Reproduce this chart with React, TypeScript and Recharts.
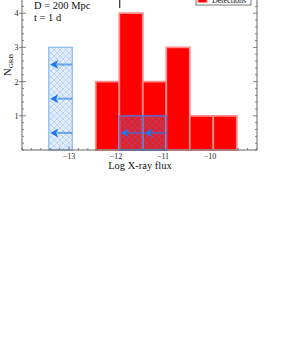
import React from "react";
import { ComposedChart, XAxis, YAxis, ReferenceArea, ReferenceLine } from "recharts";

// detected GRBs, histogram bins of width 0.5 in log flux
const binLeft = [-12.43, -11.93, -11.43, -10.93, -10.43, -9.93];
const detections = [2, 4, 2, 3, 1, 1];
const binWidth = 0.5;

// upper limits (hatched, arrows pointing left)
const limitLeft = [-13.43, -11.93, -11.43];
const limitCounts = [3, 1, 1];

const markerFlux = -11.92;

const xMajorTicks = [-13, -12, -11, -10];
const yMajorTicks = [1, 2, 3, 4];

const xDomain: [number, number] = [-14, -9];
const yDomain: [number, number] = [0, 5];

const FONT = "'Liberation Serif', 'Times New Roman', serif";
const AXIS = "#666";

const steps = (a: number, b: number, s: number) =>
  Array.from({ length: Math.round((b - a) / s) + 1 }, (_, i) => +(a + i * s).toFixed(2));
const xTicks = steps(xDomain[0], xDomain[1], 0.2);
const yTicks = steps(yDomain[0], yDomain[1], 0.2);
const isMajor = (v: number, majors: number[]) => majors.some((m) => Math.abs(m - v) < 1e-6);

const bars = binLeft.map((x, i) => ({ x1: x, x2: x + binWidth, n: detections[i] }));
const limits = limitLeft.map((x, i) => ({ x1: x, x2: x + binWidth, n: limitCounts[i] }));
const arrows = limits.flatMap((l) =>
  Array.from({ length: l.n }, (_, k) => ({ x1: l.x1, x2: l.x2, y: k + 0.5 }))
);

const XTick = (p: any) => {
  const v = p.payload.value;
  const major = isMajor(v, xMajorTicks);
  return (
    <g>
      <line x1={p.x} x2={p.x} y1={p.y} y2={p.y - (major ? 4 : 2)} stroke={AXIS} strokeWidth={0.8} />
      {major && (
        <text x={p.x} y={p.y + 8.5} textAnchor="middle" fontSize={8} fontFamily={FONT} fill="#222">
          {`\u2212${Math.abs(v)}`}
        </text>
      )}
    </g>
  );
};

const YTickL = (p: any) => {
  const v = p.payload.value;
  const major = isMajor(v, yMajorTicks);
  return (
    <g>
      <line x1={major ? p.x - 3 : p.x} x2={p.x + (major ? 4 : 2)} y1={p.y} y2={p.y} stroke={AXIS} strokeWidth={0.8} />
      {major && (
        <text x={p.x - 3.5} y={p.y + 3} textAnchor="end" fontSize={8} fontFamily={FONT} fill="#222">
          {v}
        </text>
      )}
    </g>
  );
};

const YTickR = (p: any) => {
  const v = p.payload.value;
  const major = isMajor(v, yMajorTicks);
  return <line x1={p.x} x2={p.x - (major ? 4 : 2)} y1={p.y} y2={p.y} stroke={AXIS} strokeWidth={0.8} />;
};

const Arrow = (p: any) => {
  const cy = p.y + p.height / 2;
  const left = p.x + 1.5;
  const right = p.x + p.width;
  const head = 8;
  return (
    <g>
      <line x1={right} x2={left + head - 1} y1={cy} y2={cy} stroke="rgba(26,120,240,0.6)" strokeWidth={2} />
      <path d={`M${left},${cy} L${left + head},${cy - 4.5} L${left + head - 2},${cy} L${left + head},${cy + 4.5} Z`} fill="#1a78f0" />
    </g>
  );
};

export default function App() {
  return (
    <div style={{ position: "relative", width: 281, height: 363, overflow: "hidden", background: "#fff" }}>
      <style>{"body{margin:0}"}</style>
      <svg width={0} height={0} style={{ position: "absolute" }}>
        <defs>
          <pattern id="hatch" width={6} height={6} patternUnits="userSpaceOnUse">
            <rect width={6} height={6} fill="rgba(110,165,235,0.2)" />
            <path d="M0,0 L6,6 M6,0 L0,6" stroke="rgba(70,130,225,0.35)" strokeWidth={0.7} />
          </pattern>
        </defs>
      </svg>
      <div style={{ position: "absolute", top: -40, left: 0 }}>
        <ComposedChart width={281} height={230} margin={{ top: 19, right: 0, bottom: 0, left: 0 }} data={bars}>
          <XAxis
            type="number"
            dataKey="x1"
            domain={xDomain}
            ticks={xTicks}
            interval={0}
            height={40}
            tickSize={0}
            tickMargin={0}
            tickLine={false}
            axisLine={{ stroke: AXIS }}
            tick={(p: any) => <XTick {...p} />}
            allowDataOverflow
          />
          <YAxis
            type="number"
            domain={yDomain}
            ticks={yTicks}
            interval={0}
            width={22}
            tickSize={0}
            tickMargin={0}
            tickLine={false}
            axisLine={{ stroke: AXIS }}
            tick={(p: any) => <YTickL {...p} />}
            allowDataOverflow
          />
          <YAxis
            yAxisId="r"
            orientation="right"
            type="number"
            domain={yDomain}
            ticks={yTicks}
            interval={0}
            width={24}
            tickSize={0}
            tickMargin={0}
            tickLine={false}
            axisLine={{ stroke: AXIS }}
            tick={(p: any) => <YTickR {...p} />}
            allowDataOverflow
          />
          {bars.map((b, i) => (
            <ReferenceArea
              key={`b${i}`}
              x1={b.x1}
              x2={b.x2}
              y1={0}
              y2={b.n}
              fill="#ff0000"
              fillOpacity={1}
              stroke="#ff8c8c"
              strokeWidth={1.8}
            />
          ))}
          {limits.map((l, i) => (
            <ReferenceArea
              key={`l${i}`}
              x1={l.x1}
              x2={l.x2}
              y1={0}
              y2={l.n}
              fill="url(#hatch)"
              fillOpacity={1}
              stroke={i === 0 ? "#8dbdf0" : "#3f7fe0"}
              strokeWidth={1.3}
            />
          ))}
          {arrows.map((a, i) => (
            <ReferenceArea
              key={`a${i}`}
              x1={a.x1}
              x2={a.x2}
              y1={a.y - 0.02}
              y2={a.y + 0.02}
              shape={(p: any) => <Arrow {...p} />}
            />
          ))}
          <ReferenceLine
            segment={[
              { x: markerFlux, y: 4.15 },
              { x: markerFlux, y: 5 },
            ]}
            stroke="#000"
            strokeWidth={1}
          />
        </ComposedChart>
      </div>
      <svg width={281} height={363} style={{ position: "absolute", top: 0, left: 0, pointerEvents: "none" }}>
        <g fontFamily={FONT} fill="#111">
          <text x={34} y={9} fontSize={10.5}>D = 200 Mpc</text>
          <text x={34} y={20.5} fontSize={10.5}>t = 1 d</text>
          <text transform="translate(10.5,65) rotate(-90)" textAnchor="middle" fontSize={11}>
            N<tspan fontSize={7} dy={2}>GRB</tspan>
          </text>
          <text x={140} y={169} textAnchor="middle" fontSize={10.5}>Log X-ray flux</text>
        </g>
        <rect x={196} y={-15} width={55} height={20} fill="#fff" stroke="#555" strokeWidth={0.8} />
        <rect x={198} y={-8} width={9} height={10.5} fill="#ff0000" stroke="#ff8c8c" strokeWidth={1} />
        <text x={212} y={2.5} fontSize={8} fontFamily={FONT} fill="#111">Detections</text>
      </svg>
    </div>
  );
}
